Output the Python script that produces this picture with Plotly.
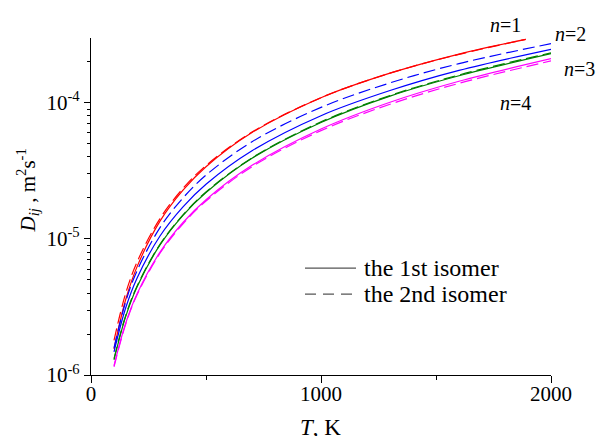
import plotly.graph_objects as go

# Temperatures (K)
T = [100, 150, 200, 300, 400, 500, 700, 1000, 1300, 1600, 2000]
T_n1 = [100, 150, 200, 300, 400, 500, 700, 1000, 1300, 1600, 1890]

# Diffusion coefficients D_ij (m^2 s^-1)
n1_iso1 = [1.55e-6, 3.54e-6, 6.23e-6, 1.35e-5, 2.28e-5, 3.39e-5, 6.04e-5, 1.09e-4, 1.65e-4, 2.28e-4, 2.92e-4]
n1_iso2 = [1.80e-6, 3.94e-6, 6.75e-6, 1.41e-5, 2.35e-5, 3.46e-5, 6.09e-5, 1.09e-4, 1.65e-4, 2.27e-4, 2.92e-4]
n2_iso1 = [1.48e-6, 3.08e-6, 5.14e-6, 1.05e-5, 1.72e-5, 2.52e-5, 4.44e-5, 8.04e-5, 1.23e-4, 1.73e-4, 2.47e-4]
n2_iso2 = [1.58e-6, 3.42e-6, 5.82e-6, 1.21e-5, 2.00e-5, 2.94e-5, 5.17e-5, 9.25e-5, 1.40e-4, 1.94e-4, 2.72e-4]
n3_iso1 = [1.29e-6, 2.66e-6, 4.43e-6, 9.03e-6, 1.49e-5, 2.19e-5, 3.91e-5, 7.17e-5, 1.12e-4, 1.58e-4, 2.30e-4]
n3_iso2 = [1.32e-6, 2.71e-6, 4.49e-6, 9.12e-6, 1.50e-5, 2.21e-5, 3.94e-5, 7.24e-5, 1.13e-4, 1.60e-4, 2.33e-4]
n4_iso1 = [1.17e-6, 2.38e-6, 3.94e-6, 7.99e-6, 1.32e-5, 1.94e-5, 3.47e-5, 6.42e-5, 1.01e-4, 1.44e-4, 2.11e-4]
n4_iso2 = [1.15e-6, 2.34e-6, 3.87e-6, 7.84e-6, 1.29e-5, 1.90e-5, 3.39e-5, 6.24e-5, 9.76e-5, 1.39e-4, 2.03e-4]

series = [
    ("n=1 iso1", T_n1, n1_iso1, "#ff0000", "solid"),
    ("n=1 iso2", T_n1, n1_iso2, "#ff0000", "12px,5px"),
    ("n=2 iso1", T, n2_iso1, "#0000ff", "solid"),
    ("n=2 iso2", T, n2_iso2, "#0000ff", "12px,5px"),
    ("n=3 iso1", T, n3_iso1, "#008000", "solid"),
    ("n=3 iso2", T, n3_iso2, "#008000", "12px,5px"),
    ("n=4 iso1", T, n4_iso1, "#ff00ff", "solid"),
    ("n=4 iso2", T, n4_iso2, "#ff00ff", "12px,5px"),
]

y_tick_vals = [1e-6, 1e-5, 1e-4]
y_tick_text = ["10<sup>-6</sup>", "10<sup>-5</sup>", "10<sup>-4</sup>"]
x_tick_vals = [0, 1000, 2000]
x_tick_text = ["0", "1000", "2000"]

FONT = "Liberation Serif, Times New Roman, serif"

fig = go.Figure()
for name, xs, ys, col, dash in series:
    fig.add_trace(go.Scatter(
        x=xs, y=ys, mode="lines", name=name, showlegend=False,
        line=dict(color=col, width=1.2, dash=dash, shape="spline", smoothing=1.0),
    ))

fig.update_layout(
    width=600, height=436,
    margin=dict(l=91, r=49, t=38, b=61),
    paper_bgcolor="white", plot_bgcolor="white",
    font=dict(family=FONT, size=21, color="black"),
    showlegend=False,
)

fig.update_xaxes(
    range=[0, 2000], showgrid=False, zeroline=False,
    showline=True, linecolor="black", linewidth=1.3,
    ticks="outside", ticklen=7, tickwidth=1.3, tickcolor="black",
    tickmode="array", tickvals=x_tick_vals, ticktext=x_tick_text,
    ticklabelstandoff=-7,
    minor=dict(ticks="outside", ticklen=4, tickwidth=1.3, tickcolor="black",
               tickmode="linear", tick0=0, dtick=500, showgrid=False),
    tickfont=dict(family=FONT, size=21),
)
fig.update_yaxes(
    type="log", range=[-6, -3.524], showgrid=False, zeroline=False,
    showline=True, linecolor="black", linewidth=1.3,
    ticks="outside", ticklen=6, tickwidth=1.3, tickcolor="black",
    tickmode="array", tickvals=y_tick_vals, ticktext=y_tick_text,
    minor=dict(ticks="outside", ticklen=3, tickwidth=1.1, tickcolor="black",
               dtick="D1", showgrid=False),
    tickfont=dict(family=FONT, size=21),
)

# axis titles
fig.add_annotation(
    xref="paper", yref="paper", x=0.498, y=(375 - 413) / 337.3, showarrow=False,
    text="<i>T</i>, K", font=dict(family=FONT, size=23),
    xanchor="center", yanchor="top",
)
fig.add_annotation(
    xref="paper", yref="paper", x=-0.139, y=0.548, showarrow=False,
    text="<i>D</i><sub><i>ij</i></sub> , m<sup>2</sup>s<sup>-1</sup>",
    textangle=-90, font=dict(family=FONT, size=21),
    xanchor="center", yanchor="middle",
)

# series labels
labels = [("1", 0.90, 1.038), ("2", 1.043, 1.012), ("3", 1.061, 0.908), ("4", 0.922, 0.807)]
for num, lx, ly in labels:
    fig.add_annotation(
        xref="paper", yref="paper", x=lx, y=ly, showarrow=False,
        text=f"<i>n</i>=" + num, font=dict(family=FONT, size=20),
        xanchor="center", yanchor="middle",
    )

# legend (drawn manually)
def px_x(p):
    return (p - 91) / 460.0

def px_y(p):
    return (375 - p) / 337.3

legend_rows = [("the 1st isomer", "solid", 268), ("the 2nd isomer", "dash", 294)]
for text, dash, ypx in legend_rows:
    fig.add_shape(
        type="line", xref="paper", yref="paper",
        x0=px_x(305), x1=px_x(356), y0=px_y(ypx), y1=px_y(ypx),
        line=dict(color="#555555", width=1.2, dash="11px,7px" if dash == "dash" else "solid"),
    )
    fig.add_annotation(
        xref="paper", yref="paper", x=px_x(362), y=px_y(ypx), showarrow=False,
        text=text, font=dict(family=FONT, size=24),
        xanchor="left", yanchor="middle",
    )

fig.write_html("out.html")
